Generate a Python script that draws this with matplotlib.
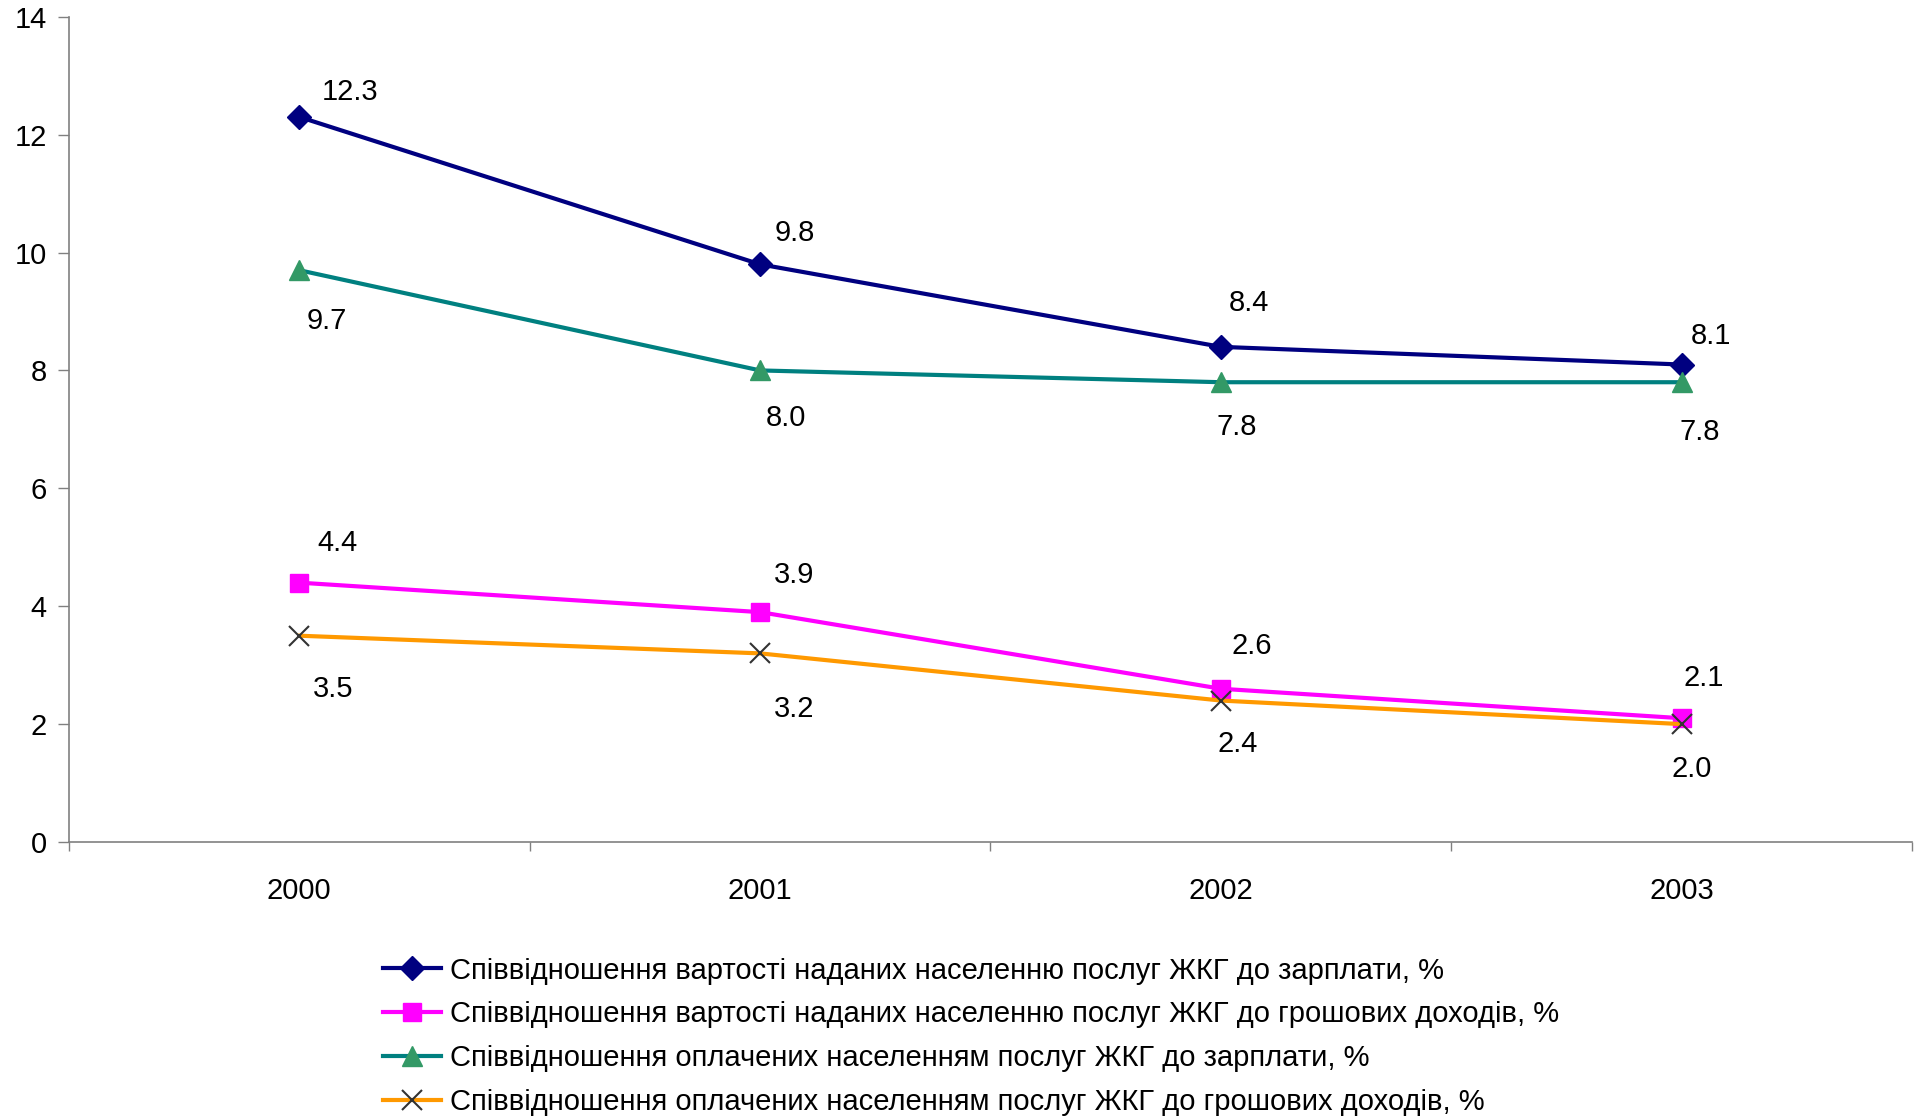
import matplotlib
matplotlib.use("Agg")
import matplotlib.pyplot as plt

plt.rcParams['font.family'] = ['Liberation Sans', 'DejaVu Sans']

years = ['2000', '2001', '2002', '2003']
cost_to_wage = [12.3, 9.8, 8.4, 8.1]
cost_to_income = [4.4, 3.9, 2.6, 2.1]
paid_to_wage = [9.7, 8.0, 7.8, 7.8]
paid_to_income = [3.5, 3.2, 2.4, 2.0]

labels = [
    'Співвідношення вартості наданих населенню послуг ЖКГ до зарплати, %',
    'Співвідношення вартості наданих населенню послуг ЖКГ до грошових доходів, %',
    'Співвідношення оплачених населенням послуг ЖКГ до зарплати, %',
    'Співвідношення оплачених населенням послуг ЖКГ до грошових доходів, %',
]

FS = 21

fig = plt.figure(figsize=(19.14, 11.16), dpi=100)
ax = fig.add_axes([0.036, 0.2455, 0.963, 0.7395])

x = range(len(years))

l1, = ax.plot(x, cost_to_wage, color='#000080', lw=3, marker='D', ms=12.5,
              mfc='#000080', mec='#000080', label=labels[0])
l2, = ax.plot(x, cost_to_income, color='#FF00FF', lw=3, marker='s', ms=12.5,
              mfc='#FF00FF', mec='#FF00FF', label=labels[1])
l3, = ax.plot(x, paid_to_wage, color='#008080', lw=3, marker='^', ms=15,
              mfc='#339966', mec='#339966', label=labels[2])
l4, = ax.plot(x, paid_to_income, color='#FF9900', lw=3, marker='x', ms=14,
              mew=1.5, mec='#333333', label=labels[3])

# label offsets in pixels (dx, dy), dy up
offsets = {
    0: [(51, 25), (35, 31), (28, 44), (29, 29)],
    1: [(38, 40), (34, 37), (31, 43), (22, 40)],
    2: [(28, -51), (26, -48), (16, -45), (18, -50)],
    3: [(34, -53), (34, -56), (17, -43), (10, -45)],
}
for k, series in enumerate([cost_to_wage, cost_to_income, paid_to_wage, paid_to_income]):
    for i, v in enumerate(series):
        dx, dy = offsets[k][i]
        ax.annotate(f'{v:.1f}', (i, v), xytext=(dx, dy), textcoords='offset pixels',
                    ha='center', va='center', fontsize=FS)

ax.set_xlim(-0.5, 3.5)
ax.set_ylim(0, 14)
ax.set_yticks(range(0, 15, 2))
ax.set_xticks(list(x))
ax.set_xticklabels(years)
ax.set_xticks([-0.5, 0.5, 1.5, 2.5, 3.5], minor=True)
ax.tick_params(axis='x', which='major', length=0, pad=25, labelsize=FS)
ax.tick_params(axis='x', which='minor', length=6.5, width=1, color='#808080')
ax.tick_params(axis='y', length=8, width=1, color='#808080', pad=8, labelsize=FS)

for s in ['top', 'right']:
    ax.spines[s].set_visible(False)
for s in ['left', 'bottom']:
    ax.spines[s].set_color('#808080')
    ax.spines[s].set_linewidth(1.2)

fig.legend(handles=[l1, l2, l3, l4], loc='upper left', bbox_to_anchor=(0.2, 0.1428),
           frameon=False, fontsize=FS, handlelength=2.0, handletextpad=0.3,
           labelspacing=0.54, borderpad=0, borderaxespad=0)

fig.savefig('out.png', dpi=100)
